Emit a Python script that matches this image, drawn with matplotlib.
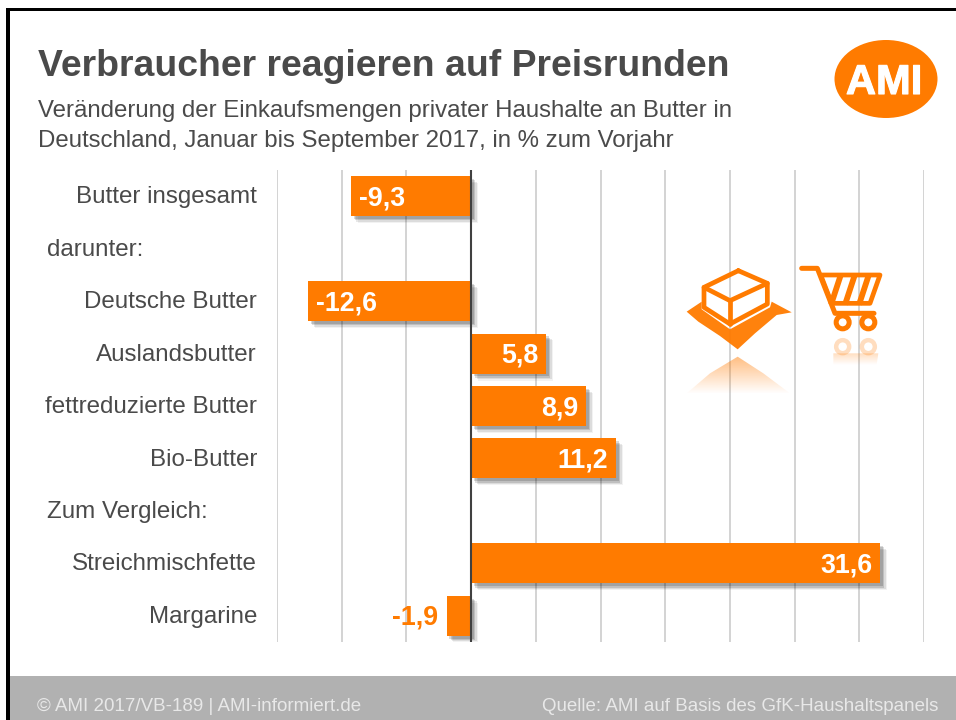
import numpy as np
import matplotlib
matplotlib.use("Agg")
import matplotlib.pyplot as plt
import matplotlib.patheffects as pe
from matplotlib.patches import Circle, Ellipse, Polygon, Rectangle
from matplotlib.transforms import blended_transform_factory, offset_copy

plt.rcParams["font.family"] = ["Liberation Sans", "DejaVu Sans"]

# Daten
categories = ["Butter insgesamt", "darunter:", "Deutsche Butter", "Auslandsbutter",
              "fettreduzierte Butter", "Bio-Butter", "Zum Vergleich:",
              "Streichmischfette", "Margarine"]
values = [-9.3, None, -12.6, 5.8, 8.9, 11.2, None, 31.6, -1.9]
grid_ticks = list(range(-15, 40, 5))

title = "Verbraucher reagieren auf Preisrunden"
subtitle = ["Veränderung der Einkaufsmengen privater Haushalte an Butter in",
            "Deutschland, Januar bis September 2017, in % zum Vorjahr"]
footer_left = "© AMI 2017/VB-189 | AMI-informiert.de"
footer_right = "Quelle: AMI auf Basis des GfK-Haushaltspanels"

ORANGE = "#ff7b00"
TEXT = "#4a4a4a"
W, H = 956, 720

fig = plt.figure(figsize=(W / 100, H / 100), dpi=100, facecolor="white")

# Hintergrund in Pixelkoordinaten
bg = fig.add_axes([0, 0, 1, 1], zorder=0)
bg.set_xlim(0, W)
bg.set_ylim(H, 0)
bg.axis("off")
bg.add_patch(Rectangle((10, 676), W - 10, 44, color="#b1b1b1", lw=0))
bg.add_patch(Rectangle((6, 8), 4, H - 8, color="black", lw=0))
bg.add_patch(Rectangle((6, 8), W - 6, 3, color="black", lw=0))

bg.text(38, 76, title, fontsize=26.9, fontweight="bold", color=TEXT, va="baseline")
bg.text(38, 117, subtitle[0], fontsize=17.25, color=TEXT, va="baseline")
bg.text(38, 147, subtitle[1], fontsize=17.25, color=TEXT, va="baseline")
bg.text(37, 711, footer_left, fontsize=13.5, color="#e8e8e8", va="baseline")
bg.text(938, 711, footer_right, fontsize=13.5, color="#e8e8e8", va="baseline", ha="right")

# Logo
bg.add_patch(Ellipse((886, 79), 103, 78, color=ORANGE, lw=0))
bg.text(884, 94, "AMI", fontsize=30, fontweight="bold", color="white", ha="center", va="baseline",
        path_effects=[pe.withStroke(linewidth=0.8, foreground="white")])

# Diagramm
ax = fig.add_axes([277 / W, 1 - 642 / H, (924 - 277) / W, (642 - 170) / H], zorder=1)
ax.patch.set_alpha(0)
ax.set_xlim(-15, 35)
ax.set_ylim(len(categories) - 0.5, -0.5)
for side in ax.spines.values():
    side.set_visible(False)
ax.set_xticks(grid_ticks)
ax.set_yticks([])
ax.tick_params(length=0, labelbottom=False)
ax.grid(axis="x", color="#d0d0d0", lw=1.3, zorder=0)
ax.axvline(0, color="#404040", lw=1.5, zorder=4)

label_tf = offset_copy(blended_transform_factory(fig.transFigure, ax.transData),
                       fig=fig, y=-0.8, units="points")
value_tf = offset_copy(ax.transData, fig=fig, y=-1.5, units="points")
px_per_unit = (924 - 277) / 50
bold = dict(fontsize=19.3, fontweight="bold", va="center", zorder=5, transform=value_tf)
for i, (cat, val) in enumerate(zip(categories, values)):
    if val is None:
        ax.text(47 / W, i, cat, transform=label_tf, fontsize=17.35, color=TEXT,
                ha="left", va="center")
        continue
    ax.text(257 / W, i, cat, transform=label_tf, fontsize=17.35, color=TEXT,
            ha="right", va="center")
    bar = ax.barh(i, val, height=40 / 52.44, color=ORANGE, lw=0, zorder=3)[0]
    bar.set_path_effects([
        pe.SimplePatchShadow(offset=(5, -5), shadow_rgbFace="#000000", alpha=0.05),
        pe.SimplePatchShadow(offset=(4, -4), shadow_rgbFace="#000000", alpha=0.09),
        pe.SimplePatchShadow(offset=(3, -3), shadow_rgbFace="#000000", alpha=0.13),
        pe.SimplePatchShadow(offset=(2, -2), shadow_rgbFace="#000000", alpha=0.15),
        pe.Normal(),
    ])
    pad = 8 / px_per_unit
    txt = f"{val:.1f}".replace(".", ",")
    if abs(val) < 3:
        ax.text(val - pad, i, txt, color=ORANGE, ha="right", **bold)
    elif val < 0:
        ax.text(val + pad, i, txt, color="white", ha="left", **bold)
    else:
        ax.text(val - pad, i, txt, color="white", ha="right", **bold)

# Symbole darüber
top = fig.add_axes([0, 0, 1, 1], zorder=2)
top.set_xlim(0, W)
top.set_ylim(H, 0)
top.axis("off")
top.patch.set_alpha(0)


def zp(*pts):
    # Koordinaten aus dem 3x-Ausschnitt umrechnen
    return [(670 + x / 3, 250 + y / 3) for x, y in pts]


def fade(poly_pts, x0, x1, y0, y1, a0):
    # Spiegelung: nach unten auslaufender Farbverlauf
    grad = np.zeros((64, 2, 4))
    grad[..., :3] = matplotlib.colors.to_rgb(ORANGE)
    grad[..., 3] = np.linspace(a0, 0, 64)[:, None]
    im = top.imshow(grad, extent=(x0, x1, y1, y0), aspect="auto", zorder=1)
    clip = Polygon(poly_pts, closed=True, transform=top.transData, fc="none", lw=0)
    top.add_patch(clip)
    im.set_clip_path(clip)


# Butter
top.add_patch(Polygon(zp((50, 185), (95, 155), (95, 178), (180, 238), (300, 172), (305, 155),
                         (365, 187), (320, 195), (255, 250), (203, 298), (150, 258), (85, 215)),
                      closed=True, fc=ORANGE, ec="none", alpha=0.95))
box_style = dict(color=ORANGE, lw=3.4, solid_joinstyle="round", solid_capstyle="round")
top.plot(*zip(*zp((205, 62), (102, 112), (102, 172), (180, 222), (292, 162), (292, 100), (205, 62))), **box_style)
top.plot(*zip(*zp((102, 112), (180, 152), (292, 100))), **box_style)
top.plot(*zip(*zp((180, 152), (180, 222))), **box_style)
fade(zp((203, 320), (280, 370), (360, 430), (50, 430), (120, 370)),
     687, 792, 356, 394, 0.5)

# Einkaufswagen
cart_style = dict(color=ORANGE, lw=3.6, solid_joinstyle="round", solid_capstyle="round")
top.plot(*zip(*zp((395, 55), (442, 55), (495, 190), (612, 190))), **cart_style)
top.add_patch(Polygon(zp((452, 75), (630, 75), (600, 160), (485, 160)), closed=True,
                      fc="none", ec=ORANGE, lw=3.4, joinstyle="round"))
for sx in (510, 552, 594):
    top.plot(*zip(*zp((sx, 82), (sx - 24, 155))), color=ORANGE, lw=4.2)
for cx in (518, 595):
    (wx, wy), = zp((cx, 217))
    top.add_patch(Circle((wx, wy), 6.5, fc="none", ec=ORANGE, lw=3.6))
    (rx, ry), = zp((cx, 290))
    top.add_patch(Circle((rx, ry), 6.5, fc="none", ec=ORANGE, lw=3.2, alpha=0.25))
fade(zp((490, 310), (625, 310), (620, 345), (490, 345)), 833, 879, 353, 365, 0.25)

top.set_xlim(0, W)
top.set_ylim(H, 0)

fig.savefig("out.png", dpi=100)
